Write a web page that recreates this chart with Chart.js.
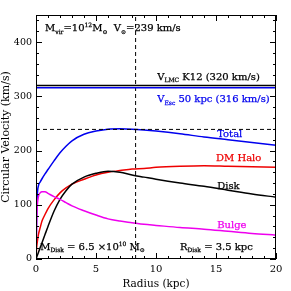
<!DOCTYPE html>
<html lang="en">
<head>
<meta charset="UTF-8" />
<title>Rotation curve</title>
<script src="https://cdn.jsdelivr.net/npm/chart.js"></script>
<style>
  html, body { margin: 0; padding: 0; background: #fff; }
  #wrap { width: 291px; height: 291px; }
</style>
</head>
<body>
<div id="wrap"><canvas id="myChart" width="291" height="291"></canvas></div>
<script>
// radius grid (kpc) and circular velocities (km/s)
const radius = [0, 0.05, 0.1, 0.2, 0.35, 0.5, 0.75, 1, 1.5, 2, 2.5, 3, 4, 5, 6, 7, 8, 9, 10, 12, 14, 16, 18, 20];
const total  = [0, 75, 115, 135, 142, 148, 157, 165, 181, 196, 208, 218, 230, 236, 239.5, 240, 239.5, 238, 236, 231, 225, 220, 215, 210];
const halo   = [0, 20, 30, 45, 58, 70, 82, 93, 109, 122, 131, 138, 147, 155, 160, 163, 166, 167, 169, 171, 172, 171, 170, 169];
const disk   = [0, 3, 6, 12, 21, 30, 45, 60, 88, 110, 126, 138, 151, 158, 162, 160, 155, 151, 147, 140, 134, 127, 120, 114];
const bulge  = [0, 60, 95, 115, 122, 124, 124, 121, 115, 110, 104, 98, 89, 81, 74, 70, 67, 64, 62, 58, 55, 51, 47, 44];

const vLmc = 320;
const vEsc = 316;
const vSun = 239;
const rSun = 8.3;

const xTicks = [0, 5, 10, 15, 20];
const yTicks = [0, 100, 200, 300, 400];

const FONT = '"DejaVu Serif", serif';

const pts = (ys) => radius.map((r, i) => ({ x: r, y: ys[i] }));

function curve(label, ys, color) {
  return {
    label, data: pts(ys), borderColor: color, borderWidth: 1.5,
    pointRadius: 0, cubicInterpolationMode: 'monotone', fill: false
  };
}
function hline(label, v, color, dash) {
  return {
    label, data: [{ x: 0, y: v }, { x: 20, y: v }], borderColor: color,
    borderWidth: dash ? 1 : 1.5, borderDash: dash || [], pointRadius: 0
  };
}

// text with sub/superscripts: parts = [[text, 'n'|'sub'|'sup'], ...]
function richText(ctx, parts, x, y, color, size) {
  ctx.save();
  ctx.fillStyle = color;
  ctx.strokeStyle = color;
  ctx.lineWidth = 0.25;
  ctx.textBaseline = 'alphabetic';
  let cx = x;
  for (const [t, kind] of parts) {
    const s = kind === 'n' ? size : size * 0.6;
    const dy = kind === 'sub' ? size * 0.25 : kind === 'sup' ? -size * 0.4 : 0;
    ctx.font = `${s}px ${FONT}`;
    ctx.fillText(t, cx, y + dy);
    ctx.strokeText(t, cx, y + dy);
    cx += ctx.measureText(t).width;
  }
  ctx.restore();
}

const notes = [
  { x: 0.75, y: 420, color: '#000', parts: [['M', 'n'], ['vir', 'sub'], ['=10', 'n'], ['12', 'sup'], ['M', 'n'], ['\u2299', 'sub'], ['  V', 'n'], ['\u2299', 'sub'], ['=239 km/s', 'n']] },
  { x: 10.1, y: 331, color: '#000', parts: [['V', 'n'], ['LMC', 'sub'], [' K12 (320 km/s)', 'n']] },
  { x: 10.1, y: 289, color: '#0000ee', parts: [['V', 'n'], ['Esc', 'sub'], [' 50 kpc (316 km/s)', 'n']] },
  { x: 15.1, y: 225, color: '#0000ee', parts: [['Total', 'n']] },
  { x: 15.0, y: 180, color: '#ee0000', parts: [['DM Halo', 'n']] },
  { x: 15.1, y: 130, color: '#000', parts: [['Disk', 'n']] },
  { x: 15.1, y: 58, color: '#ee00ee', parts: [['Bulge', 'n']] },
  { x: 0.35, y: 17, color: '#000', parts: [['M', 'n'], ['Disk', 'sub'], [' = 6.5 \u00d710', 'n'], ['10', 'sup'], [' M', 'n'], ['\u2299', 'sub']] },
  { x: 12, y: 17, color: '#000', parts: [['R', 'n'], ['Disk', 'sub'], [' = 3.5 kpc', 'n']] }
];

const frame = {
  id: 'frame',
  afterDatasetsDraw(chart) {
    const { ctx, chartArea: a, scales: { x, y } } = chart;
    ctx.save();
    ctx.strokeStyle = '#000';
    ctx.lineWidth = 1;
    ctx.strokeRect(a.left + 0.5, a.top + 0.5, a.right - a.left - 1, a.bottom - a.top - 1);
    ctx.beginPath();
    for (let v = 0; v <= 20; v += 1) {
      const px = Math.round(x.getPixelForValue(v)) + 0.5;
      const len = v % 5 === 0 ? 6 : 3;
      ctx.moveTo(px, a.bottom); ctx.lineTo(px, a.bottom - len);
      ctx.moveTo(px, a.top); ctx.lineTo(px, a.top + len);
    }
    for (let v = 0; v <= 450; v += 20) {
      const py = Math.round(y.getPixelForValue(v)) + 0.5;
      const len = v % 100 === 0 ? 6 : 3;
      ctx.moveTo(a.left, py); ctx.lineTo(a.left + len, py);
      ctx.moveTo(a.right, py); ctx.lineTo(a.right - len, py);
    }
    ctx.stroke();
    ctx.restore();
    for (const n of notes) {
      richText(ctx, n.parts, x.getPixelForValue(n.x), y.getPixelForValue(n.y), n.color, 10);
    }
  }
};

new Chart(document.getElementById('myChart'), {
  type: 'line',
  data: {
    datasets: [
      hline('V_LMC', vLmc, '#000'),
      hline('V_Esc', vEsc, '#0000ee'),
      hline('V_sun', vSun, '#000', [4, 3]),
      { label: 'R_sun', data: [{ x: rSun, y: 0 }, { x: rSun, y: 450 }], borderColor: '#000', borderWidth: 1, borderDash: [4, 3], pointRadius: 0 },
      curve('Bulge', bulge, '#ee00ee'),
      curve('Disk', disk, '#000'),
      curve('DM Halo', halo, '#ee0000'),
      curve('Total', total, '#0000ee')
    ]
  },
  options: {
    responsive: false,
    animation: false,
    layout: { padding: { top: 15, right: 15, left: 0, bottom: 0 } },
    plugins: { legend: { display: false }, tooltip: { enabled: false } },
    scales: {
      x: {
        type: 'linear', min: 0, max: 20,
        grid: { display: false, drawTicks: false },
        border: { display: false },
        afterBuildTicks: (s) => { s.ticks = xTicks.map(v => ({ value: v })); },
        afterFit: (s) => { s.height = 32; },
        ticks: { color: '#000', padding: 4, maxRotation: 0, font: { family: FONT, size: 10 } },
        title: { display: true, text: 'Radius (kpc)', color: '#000', padding: { top: 2, bottom: 0 }, font: { family: FONT, size: 10.5 } }
      },
      y: {
        type: 'linear', min: 0, max: 450,
        grid: { display: false, drawTicks: false },
        border: { display: false },
        afterBuildTicks: (s) => { s.ticks = yTicks.map(v => ({ value: v })); },
        afterFit: (s) => { s.width = 36; },
        ticks: { color: '#000', padding: 4, font: { family: FONT, size: 9.5 } },
        title: { display: true, text: 'Circular Velocity (km/s)', color: '#000', padding: { top: 0, bottom: 3 }, font: { family: FONT, size: 11 } }
      }
    }
  },
  plugins: [frame]
});
</script>
</body>
</html>
